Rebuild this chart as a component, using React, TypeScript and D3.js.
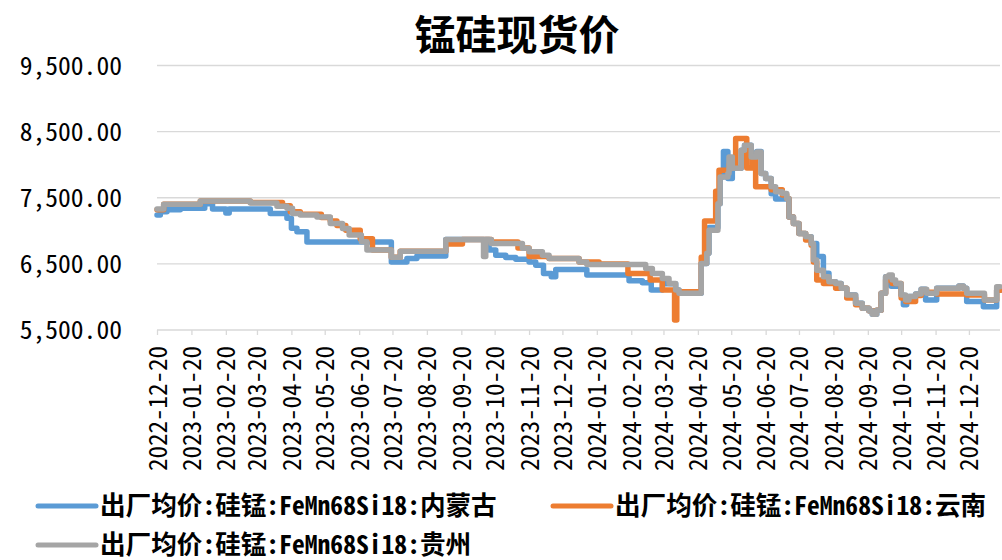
import React, { useEffect, useRef } from 'react'
import * as d3 from 'd3'

const title = '锰硅现货价'
const seriesNames = [
  '出厂均价:硅锰:FeMn68Si18:内蒙古',
  '出厂均价:硅锰:FeMn68Si18:云南',
  '出厂均价:硅锰:FeMn68Si18:贵州',
]
const seriesColors = ['#5B9BD5', '#ED7D31', '#A5A5A5']
const yTicks = [5500, 6500, 7500, 8500, 9500]
const xFirstTick = '2022-12-20'
const xLastTick = '2024-12-20'
const xDomainEnd = '2025-01-17'

// change points: [date, price]
const innerMongolia: [string, number][] = [
  ['2022-12-20', 7240], ['2022-12-23', 7290], ['2022-12-29', 7320], ['2023-01-10', 7340],
  ['2023-02-01', 7410], ['2023-02-08', 7330], ['2023-02-20', 7270], ['2023-02-23', 7330],
  ['2023-04-01', 7260], ['2023-04-16', 7190], ['2023-04-20', 7040], ['2023-04-25', 6985],
  ['2023-05-04', 6830], ['2023-07-19', 6530], ['2023-08-02', 6580], ['2023-08-11', 6620],
  ['2023-09-06', 6870], ['2023-10-15', 6710], ['2023-10-21', 6630], ['2023-10-30', 6595],
  ['2023-11-08', 6570], ['2023-11-20', 6530], ['2023-11-26', 6480], ['2023-12-03', 6355],
  ['2023-12-10', 6305], ['2023-12-14', 6415], ['2024-01-11', 6330], ['2024-02-18', 6245],
  ['2024-03-01', 6215], ['2024-03-09', 6105], ['2024-03-19', 6200], ['2024-03-31', 6105],
  ['2024-04-03', 6055], ['2024-04-23', 6505], ['2024-04-28', 6660], ['2024-04-30', 7050],
  ['2024-05-08', 7410], ['2024-05-10', 7815], ['2024-05-13', 8200], ['2024-05-17', 7790],
  ['2024-05-21', 7945], ['2024-05-29', 8220], ['2024-06-01', 8295], ['2024-06-07', 8170],
  ['2024-06-12', 8200], ['2024-06-16', 7865], ['2024-06-20', 7790], ['2024-06-25', 7560],
  ['2024-06-29', 7480], ['2024-07-11', 7210], ['2024-07-15', 7110], ['2024-07-20', 6960],
  ['2024-07-26', 6910], ['2024-07-31', 6810], ['2024-08-05', 6610], ['2024-08-11', 6360],
  ['2024-08-16', 6230], ['2024-08-22', 6205], ['2024-08-27', 6130], ['2024-09-01', 6030],
  ['2024-09-09', 5905], ['2024-09-15', 5830], ['2024-09-21', 5790], ['2024-09-24', 5740],
  ['2024-09-28', 5800], ['2024-10-02', 6055], ['2024-10-06', 6305], ['2024-10-11', 6160],
  ['2024-10-20', 6030], ['2024-10-22', 5880], ['2024-10-25', 5955], ['2024-10-27', 6005],
  ['2024-11-02', 6045], ['2024-11-07', 6115], ['2024-11-11', 5955], ['2024-11-21', 6130],
  ['2024-12-11', 6165], ['2024-12-15', 6130], ['2024-12-18', 5930], ['2025-01-02', 5850],
  ['2025-01-14', 6100], ['2025-01-17', 6100],
]

const yunnan: [string, number][] = [
  ['2022-12-20', 7320], ['2022-12-26', 7400], ['2023-01-28', 7450], ['2023-03-14', 7430],
  ['2023-04-12', 7380], ['2023-04-19', 7290], ['2023-04-28', 7250], ['2023-05-17', 7200],
  ['2023-05-25', 7150], ['2023-05-31', 7080], ['2023-06-08', 7010], ['2023-06-21', 6880],
  ['2023-07-02', 6710], ['2023-07-19', 6600], ['2023-07-27', 6690], ['2023-09-06', 6800],
  ['2023-09-21', 6870], ['2023-10-17', 6830], ['2023-11-10', 6740], ['2023-11-20', 6610],
  ['2023-12-08', 6580], ['2024-01-04', 6530], ['2024-01-22', 6500], ['2024-02-17', 6355],
  ['2024-03-08', 6255], ['2024-03-19', 6105], ['2024-03-30', 5650], ['2024-04-01', 6080],
  ['2024-04-23', 6600], ['2024-04-26', 7150], ['2024-05-06', 7600], ['2024-05-09', 7915],
  ['2024-05-18', 8000], ['2024-05-24', 8395], ['2024-06-03', 7950], ['2024-06-08', 8100],
  ['2024-06-11', 7665], ['2024-06-25', 7620], ['2024-07-05', 7540], ['2024-07-09', 7490],
  ['2024-07-11', 7210], ['2024-07-15', 7110], ['2024-07-20', 6960], ['2024-07-26', 6860],
  ['2024-07-31', 6780], ['2024-08-02', 6530], ['2024-08-05', 6255], ['2024-08-11', 6205],
  ['2024-08-22', 6130], ['2024-09-01', 5985], ['2024-09-09', 5880], ['2024-09-15', 5830],
  ['2024-09-21', 5790], ['2024-09-28', 5800], ['2024-10-02', 6055], ['2024-10-06', 6255],
  ['2024-10-12', 6205], ['2024-10-20', 5985], ['2024-10-24', 5930], ['2024-11-02', 6020],
  ['2024-11-07', 6070], ['2024-11-21', 6045], ['2024-12-18', 6030], ['2025-01-03', 5955],
  ['2025-01-14', 6100], ['2025-01-17', 6100],
]

const guizhou: [string, number][] = [
  ['2022-12-20', 7330], ['2022-12-26', 7400], ['2023-01-28', 7450], ['2023-03-14', 7420],
  ['2023-04-07', 7370], ['2023-04-16', 7340], ['2023-04-21', 7260], ['2023-04-28', 7240],
  ['2023-05-13', 7210], ['2023-05-25', 7110], ['2023-06-05', 7035], ['2023-06-11', 6935],
  ['2023-06-22', 6835], ['2023-06-27', 6710], ['2023-07-19', 6600], ['2023-07-27', 6690],
  ['2023-09-06', 6870], ['2023-10-10', 6610], ['2023-10-12', 6870], ['2023-10-17', 6810],
  ['2023-11-14', 6735], ['2023-11-20', 6685], ['2023-12-02', 6630], ['2023-12-08', 6580],
  ['2024-01-04', 6530], ['2024-01-11', 6490], ['2024-03-04', 6430], ['2024-03-10', 6355],
  ['2024-03-19', 6280], ['2024-03-25', 6205], ['2024-03-31', 6105], ['2024-04-03', 6055],
  ['2024-04-23', 6505], ['2024-04-28', 6660], ['2024-04-30', 7010], ['2024-05-08', 7410],
  ['2024-05-10', 7815], ['2024-05-17', 7865], ['2024-05-18', 8115], ['2024-05-21', 7945],
  ['2024-05-29', 8220], ['2024-06-01', 8295], ['2024-06-07', 8115], ['2024-06-12', 8190],
  ['2024-06-16', 7865], ['2024-06-20', 7790], ['2024-06-25', 7665], ['2024-06-29', 7590],
  ['2024-07-05', 7565], ['2024-07-09', 7490], ['2024-07-11', 7210], ['2024-07-15', 7110],
  ['2024-07-20', 6960], ['2024-07-26', 6910], ['2024-07-31', 6810], ['2024-08-02', 6560],
  ['2024-08-05', 6405], ['2024-08-11', 6305], ['2024-08-16', 6230], ['2024-08-22', 6205],
  ['2024-08-27', 6130], ['2024-09-01', 6030], ['2024-09-09', 5905], ['2024-09-15', 5830],
  ['2024-09-21', 5790], ['2024-09-24', 5740], ['2024-09-28', 5800], ['2024-10-02', 6055],
  ['2024-10-06', 6305], ['2024-10-09', 6330], ['2024-10-12', 6255], ['2024-10-15', 6205],
  ['2024-10-20', 6030], ['2024-10-24', 5955], ['2024-10-27', 6005], ['2024-11-02', 6045],
  ['2024-11-07', 6115], ['2024-11-12', 6055], ['2024-11-21', 6130], ['2024-12-11', 6165],
  ['2024-12-15', 6130], ['2024-12-18', 6055], ['2025-01-03', 5955], ['2025-01-14', 6155],
  ['2025-01-17', 6155],
]

const allSeries = [innerMongolia, yunnan, guizhou]

const W = 1002
const H = 560
const monoFont = "'Noto Sans Mono CJK SC', 'DejaVu Sans Mono', monospace"
const cjkFont = "'Noto Sans CJK SC', sans-serif"

export default function App() {
  const ref = useRef<SVGSVGElement>(null)

  useEffect(() => {
    document.body.style.margin = '0'
    const svg = d3.select(ref.current)
    svg.selectAll('*').remove()

    const parse = d3.timeParse('%Y-%m-%d')
    const x = d3.scaleTime()
      .domain([parse(xFirstTick)!, parse(xDomainEnd)!])
      .range([157, 1000])
    const y = d3.scaleLinear().domain([5500, 9500]).range([330, 65.5])

    // title
    svg.append('text')
      .attr('x', 517).attr('y', 50)
      .attr('text-anchor', 'middle')
      .style('font-family', cjkFont)
      .style('font-weight', 'bold')
      .style('font-size', '41px')
      .text(title)

    // gridlines
    svg.append('g')
      .selectAll('line')
      .data(yTicks.slice(1))
      .enter()
      .append('line')
      .attr('x1', 157).attr('x2', 1000)
      .attr('y1', d => y(d)).attr('y2', d => y(d))
      .attr('stroke', '#D9D9D9')
      .attr('stroke-width', 1.3)

    // y labels
    const fmt = d3.format(',.2f')
    svg.append('g')
      .selectAll('text')
      .data(yTicks)
      .enter()
      .append('text')
      .attr('x', 122).attr('y', d => y(d))
      .attr('dy', '0.36em')
      .attr('text-anchor', 'end')
      .style('font-family', monoFont)
      .style('font-size', '25.6px')
      .text(d => fmt(d))

    // x axis
    const monthTicks = d3.timeMonth.every(1)!
      .range(parse(xFirstTick)!, d3.timeDay.offset(parse(xLastTick)!, 1))
      .map(d => d3.timeDay.offset(d, 19))
    const tickDates = [parse(xFirstTick)!, ...monthTicks.filter(d => d > parse(xFirstTick)!)]
    const xAxis = d3.axisBottom(x)
      .tickValues(tickDates)
      .tickSize(5)
      .tickFormat(d => d3.timeFormat('%Y-%m-%d')(d as Date))
    const gx = svg.append('g').attr('transform', 'translate(0,330)').call(xAxis)
    gx.select('.domain').attr('stroke', '#D9D9D9').attr('stroke-width', 1.3)
      .attr('d', 'M157,0H1000')
    gx.selectAll('.tick line').attr('stroke', '#D9D9D9').attr('stroke-width', 1.3)
    gx.selectAll('.tick text')
      .attr('transform', 'rotate(-90)')
      .attr('x', -16).attr('y', 0)
      .attr('dy', '0.36em')
      .attr('text-anchor', 'end')
      .attr('fill', '#000')
      .style('font-family', monoFont)
      .style('font-size', '25px')

    // lines
    const line = d3.line<[string, number]>()
      .x(d => x(parse(d[0])!))
      .y(d => y(d[1]))
      .curve(d3.curveStepAfter)
    svg.append('g')
      .selectAll('path')
      .data(allSeries)
      .enter()
      .append('path')
      .attr('d', d => line(d))
      .attr('fill', 'none')
      .attr('stroke', (_, i) => seriesColors[i])
      .attr('stroke-width', 5.5)
      .attr('stroke-linejoin', 'round')
      .attr('stroke-linecap', 'round')

    // legend
    const legendPos = [[38, 506], [553, 506], [38, 545]]
    const lg = svg.append('g')
      .selectAll('g')
      .data(seriesNames)
      .enter()
      .append('g')
      .attr('transform', (_, i) => `translate(${legendPos[i][0]},${legendPos[i][1]})`)
    lg.append('line')
      .attr('x1', 0).attr('x2', 58)
      .attr('stroke', (_, i) => seriesColors[i])
      .attr('stroke-width', 5)
      .attr('stroke-linecap', 'round')
    lg.append('text')
      .attr('x', 62).attr('dy', '0.36em')
      .style('font-family', monoFont)
      .style('font-weight', 'bold')
      .style('font-size', '25.6px')
      .text(d => d)
  }, [])

  return <svg ref={ref} width={W} height={H} style={{ display: 'block', background: '#fff' }} />
}
